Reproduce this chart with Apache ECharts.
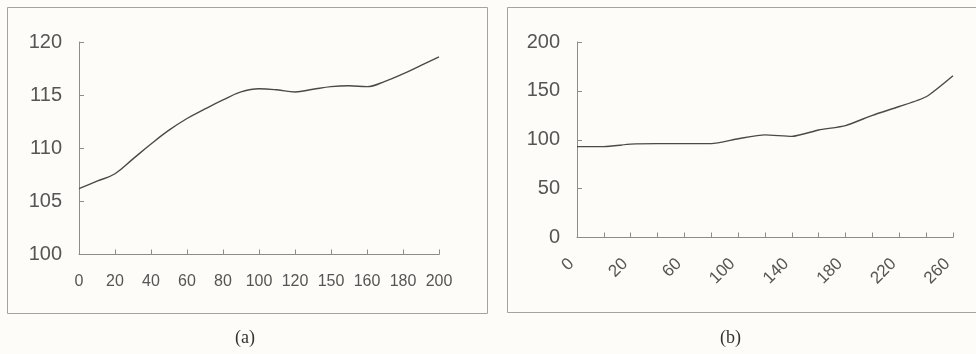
<!DOCTYPE html>
<html>
<head>
<meta charset="utf-8">
<script src="https://cdn.jsdelivr.net/npm/echarts@6/dist/echarts.min.js"></script>
<style>
  html, body { margin: 0; padding: 0; background: #fdfcf9; }
  #chart { width: 976px; height: 354px; }
</style>
</head>
<body>
<div id="chart"></div>
<script>
// Panel (a): x positions, values and the printed tick labels
const xA = [0, 10, 20, 30, 40, 50, 60, 70, 80, 90, 100, 110, 120, 130, 140, 150, 160, 170, 180, 190, 200];
const yA = [106.2, 106.9, 107.6, 109.0, 110.4, 111.7, 112.8, 113.7, 114.55, 115.3, 115.6, 115.5, 115.3, 115.55, 115.8, 115.88, 115.8, 116.3, 117.0, 117.8, 118.6];
const xLabelsA = ['0', '20', '40', '60', '80', '100', '120', '150', '160', '180', '200'];

// Panel (b): categories (every other one is labelled) and values
const catsB = ['0', '10', '20', '40', '60', '80', '100', '120', '140', '160', '180', '200', '220', '240', '260'];
const yB = [93, 93, 95.5, 96, 96, 96, 101, 105, 103.5, 110, 114.5, 125, 134, 144, 165.5];

const captions = ['(a)', '(b)'];

const FONT = 'Liberation Sans, Arial, sans-serif';
const AXIS = '#8c8c8c';
const TEXT = '#555';
const LINE = '#4a4a4a';

const chart = echarts.init(document.getElementById('chart'), null, { renderer: 'canvas' });

const axisLine = { lineStyle: { color: AXIS, width: 1 } };
const axisTick = { inside: true, length: 5, lineStyle: { color: AXIS } };

chart.setOption({
  backgroundColor: '#fdfcf9',
  animation: false,
  graphic: [
    { type: 'rect', shape: { x: 7.5, y: 7.5, width: 480, height: 306 },
      style: { fill: 'none', stroke: '#a3a3a3', lineWidth: 1 }, z: -1 },
    { type: 'rect', shape: { x: 507.5, y: 7.5, width: 480, height: 305 },
      style: { fill: 'none', stroke: '#a3a3a3', lineWidth: 1 }, z: -1 },
    { type: 'text', left: 247 - 12, top: 329,
      style: { text: captions[0], font: '18px "Liberation Serif", serif', fill: '#333' } },
    { type: 'text', left: 732 - 12, top: 329,
      style: { text: captions[1], font: '18px "Liberation Serif", serif', fill: '#333' } }
  ],
  grid: [
    { left: 79, top: 42, width: 360, height: 212.5 },
    { left: 577, top: 42, width: 376, height: 195.5 }
  ],
  xAxis: [
    {
      type: 'value', gridIndex: 0, min: 0, max: 200, interval: 20,
      axisLine, axisTick, splitLine: { show: false },
      axisLabel: {
        color: TEXT, fontSize: 16, fontFamily: FONT, margin: 19,
        formatter: v => xLabelsA[Math.round(v / 20)]
      }
    },
    {
      type: 'category', gridIndex: 1, data: catsB, boundaryGap: false,
      axisLine, axisTick: Object.assign({ interval: 0 }, axisTick),
      axisLabel: { color: TEXT, fontSize: 17, fontFamily: FONT, rotate: 45, interval: 1, margin: 18, padding: [0, 8, 0, 0] }
    }
  ],
  yAxis: [
    {
      type: 'value', gridIndex: 0, min: 100, max: 120, interval: 5,
      axisLine: Object.assign({ show: true }, axisLine), axisTick: Object.assign({ show: true }, axisTick),
      splitLine: { show: false },
      axisLabel: { color: TEXT, fontSize: 20, fontFamily: FONT, margin: 17 }
    },
    {
      type: 'value', gridIndex: 1, min: 0, max: 200, interval: 50,
      axisLine: Object.assign({ show: true }, axisLine), axisTick: Object.assign({ show: true }, axisTick),
      splitLine: { show: false },
      axisLabel: { color: TEXT, fontSize: 20, fontFamily: FONT, margin: 17 }
    }
  ],
  series: [
    {
      type: 'line', xAxisIndex: 0, yAxisIndex: 0, smooth: 0.4, showSymbol: false,
      lineStyle: { color: LINE, width: 1.4 },
      data: xA.map((x, i) => [x, yA[i]])
    },
    {
      type: 'line', xAxisIndex: 1, yAxisIndex: 1, smooth: 0.2, showSymbol: false,
      lineStyle: { color: LINE, width: 1.4 },
      data: yB
    }
  ]
});
</script>
</body>
</html>
